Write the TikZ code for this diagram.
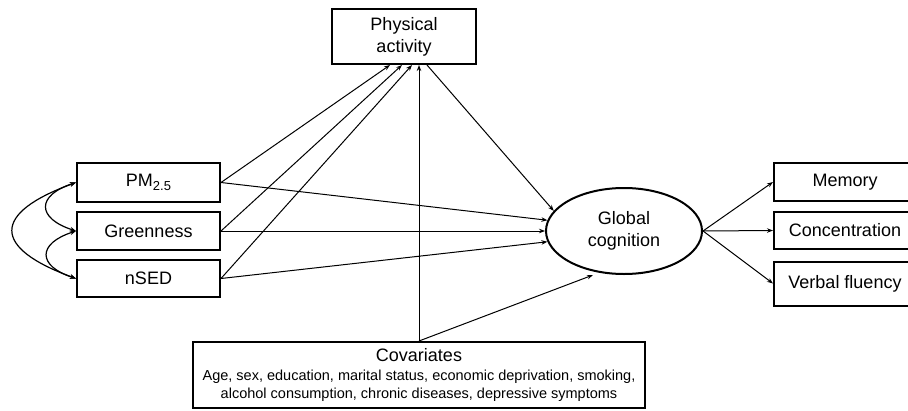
\documentclass[tikz,border=0pt]{standalone}
\usepackage{fontspec}
\setmainfont{Liberation Sans}
\usetikzlibrary{arrows.meta,shapes.geometric}
\begin{document}
\begin{tikzpicture}[x=1pt,y=-1pt,
  box/.style={draw,line width=2pt,inner sep=0pt,align=center,font=\fontsize{18}{22}\selectfont},
  arr/.style={line width=1pt,-{Stealth[length=6pt,width=4.5pt]}},
  darr/.style={line width=1.2pt,{Stealth[length=6pt,width=4.5pt]}-{Stealth[length=6pt,width=4.5pt]}}]
\useasboundingbox (0,0) rectangle (908,410);
\node[box,minimum width=144pt,minimum height=55pt] (pa) at (404,36.5) {Physical\\activity};
\node[box,minimum width=143pt,minimum height=39pt] (pm) at (148.5,182.5) {PM\raisebox{-0.4ex}{\fontsize{13}{13}\selectfont 2.5}};
\node[box,minimum width=143pt,minimum height=38pt] (gr) at (148.5,231) {Greenness};
\node[box,minimum width=143pt,minimum height=37pt] (ns) at (148.5,278.5) {nSED};
\node[box,ellipse,minimum width=156pt,minimum height=86pt] (gc) at (624,231) {Global\\cognition};
\node[box,minimum width=142pt,minimum height=38pt] (me) at (845,182) {Memory};
\node[box,minimum width=142pt,minimum height=37pt] (co) at (845,230.5) {Concentration};
\node[box,minimum width=142pt,minimum height=44pt] (vf) at (845,283.5) {Verbal fluency};
\node[box,minimum width=452pt,minimum height=66pt,font=\fontsize{14.5}{18.5}\selectfont] (cv) at (419,375)
  {{\fontsize{18}{18.5}\selectfont Covariates}\\Age, sex, education, marital status, economic deprivation, smoking,\\alcohol consumption, chronic diseases, depressive symptoms};
% to physical activity
\draw[arr] (pm.east) -- ([xshift=-14pt]pa.south);
\draw[arr] (gr.east) -- ([xshift=-2pt]pa.south);
\draw[arr] (ns.east) -- ([xshift=8pt]pa.south);
\draw[arr] (cv.north) -- ([xshift=15pt]pa.south);
% to global cognition
\draw[arr] ([xshift=23pt]pa.south) -- (gc.164);
\draw[arr] (pm.east) -- (gc.172);
\draw[arr] (gr.east) -- (gc.west);
\draw[arr] (ns.east) -- (gc.188);
\draw[arr] (cv.north) -- ([xshift=-31pt]gc.south);
% indicators
\draw[arr] (gc.east) -- (me.west);
\draw[arr] (gc.east) -- (co.west);
\draw[arr] (gc.east) -- (vf.west);
% covariances
\draw[darr] (pm.west) to[out=198,in=162,looseness=2.2] (gr.west);
\draw[darr] (gr.west) to[out=198,in=162,looseness=2.2] (ns.west);
\draw[darr] (pm.west) to[out=200,in=160,looseness=2.4] (ns.west);
\end{tikzpicture}
\end{document}
